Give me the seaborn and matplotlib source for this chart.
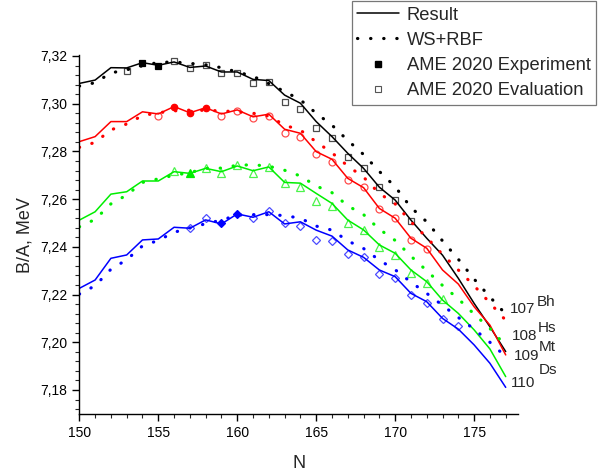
import matplotlib
matplotlib.use("Agg")
import matplotlib.pyplot as plt
from matplotlib.lines import Line2D
from matplotlib.ticker import MultipleLocator, FuncFormatter
import seaborn as sns

# neutron numbers
n_values = list(range(150, 178))

# Result (solid lines)
bh_result = [7.3085, 7.3099, 7.3151, 7.3150, 7.3172, 7.3161, 7.3175, 7.3152, 7.3158, 7.3133,
             7.3133, 7.3102, 7.3097, 7.3036, 7.3002, 7.2925, 7.2862, 7.2792, 7.2729, 7.2650,
             7.2596, 7.2512, 7.2436, 7.2365, 7.2268, 7.2163, 7.2065, 7.1961]
hs_result = [7.2841, 7.2862, 7.2925, 7.2925, 7.2966, 7.2957, 7.2988, 7.2962, 7.2983, 7.2957,
             7.2974, 7.2945, 7.2956, 7.2893, 7.2876, 7.2799, 7.2767, 7.2687, 7.2648, 7.2561,
             7.2520, 7.2436, 7.2394, 7.2303, 7.2244, 7.2149, 7.2072, 7.1947]
mt_result = [7.2512, 7.2547, 7.2621, 7.2631, 7.2676, 7.2676, 7.2715, 7.2708, 7.2729, 7.2715,
             7.2739, 7.2719, 7.2735, 7.2670, 7.2667, 7.2624, 7.2582, 7.2512, 7.2471, 7.2408,
             7.2373, 7.2303, 7.2254, 7.2177, 7.2121, 7.2052, 7.1972, 7.1856]
ds_result = [7.2226, 7.2261, 7.2352, 7.2366, 7.2429, 7.2433, 7.2482, 7.2478, 7.2513, 7.2496,
             7.2538, 7.2524, 7.2547, 7.2496, 7.2505, 7.2470, 7.2445, 7.2387, 7.2356, 7.2303,
             7.2275, 7.2205, 7.2170, 7.2100, 7.2055, 7.1989, 7.1912, 7.1811]

# WS+RBF (dotted lines)
bh_ws = [7.3074, 7.3088, 7.3129, 7.3142, 7.3159, 7.3173, 7.3175, 7.3169, 7.3163, 7.3151,
         7.3133, 7.3115, 7.3084, 7.3051, 7.3016, 7.2960, 7.2910, 7.2846, 7.2787, 7.2716,
         7.2652, 7.2565, 7.2505, 7.2425, 7.2348, 7.2265, 7.2190, 7.2118]
hs_ws = [7.2817, 7.2838, 7.2890, 7.2915, 7.2950, 7.2962, 7.2970, 7.2973, 7.2972, 7.2970,
         7.2966, 7.2960, 7.2948, 7.2910, 7.2889, 7.2840, 7.2794, 7.2739, 7.2692, 7.2624,
         7.2580, 7.2505, 7.2439, 7.2368, 7.2303, 7.2237, 7.2165, 7.2092]
mt_ws = [7.2484, 7.2515, 7.2580, 7.2617, 7.2670, 7.2685, 7.2700, 7.2711, 7.2729, 7.2730,
         7.2742, 7.2744, 7.2738, 7.2721, 7.2697, 7.2655, 7.2627, 7.2572, 7.2535, 7.2474,
         7.2427, 7.2361, 7.2300, 7.2238, 7.2182, 7.2118, 7.2058, 7.1985]
ds_ws = [7.2202, 7.2237, 7.2306, 7.2346, 7.2404, 7.2427, 7.2461, 7.2479, 7.2497, 7.2512,
         7.2533, 7.2535, 7.2535, 7.2531, 7.2520, 7.2487, 7.2470, 7.2425, 7.2393, 7.2344,
         7.2304, 7.2252, 7.2205, 7.2155, 7.2104, 7.2055, 7.2000, 7.1940]

# AME 2020 experiment (filled markers)
bh_exp_n = [154, 155]
bh_exp = [7.3172, 7.3158]
hs_exp_n = [156, 157, 158]
hs_exp = [7.2985, 7.2962, 7.2982]
mt_exp_n = [157]
mt_exp = [7.2708]
ds_exp_n = [159, 160]
ds_exp = [7.2498, 7.2538]

# AME 2020 evaluation (open markers)
bh_eval_n = [153, 156, 157, 158, 159, 160, 161, 162, 163, 164, 165, 166, 167, 168, 169, 170, 171]
bh_eval = [7.3137, 7.3180, 7.3151, 7.3161, 7.3130, 7.3130, 7.3088, 7.3089, 7.3008, 7.2978,
           7.2899, 7.2857, 7.2778, 7.2729, 7.2652, 7.2596, 7.2510]
hs_eval_n = [155, 159, 160, 161, 162, 163, 164, 165, 166, 167, 168, 169, 170, 171, 172]
hs_eval = [7.2948, 7.2948, 7.2969, 7.2941, 7.2950, 7.2878, 7.2859, 7.2789, 7.2757, 7.2680,
           7.2652, 7.2557, 7.2519, 7.2429, 7.2390]
mt_eval_n = [156, 158, 159, 160, 161, 162, 163, 164, 165, 166, 167, 168, 169, 170, 171, 172, 173]
mt_eval = [7.2719, 7.2729, 7.2711, 7.2743, 7.2711, 7.2733, 7.2669, 7.2652, 7.2593, 7.2571,
           7.2501, 7.2471, 7.2401, 7.2366, 7.2289, 7.2250, 7.2182]
ds_eval_n = [157, 158, 161, 162, 163, 164, 165, 166, 167, 168, 169, 170, 171, 172, 173, 174]
ds_eval = [7.2478, 7.2520, 7.2520, 7.2549, 7.2498, 7.2487, 7.2429, 7.2426, 7.2370, 7.2356,
           7.2286, 7.2268, 7.2198, 7.2166, 7.2098, 7.2068]

sns.set_style("ticks")
plt.rcParams["font.family"] = ["Liberation Sans", "DejaVu Sans"]

fig = plt.figure(figsize=(6.0, 4.74), dpi=100)
ax = fig.add_axes([0.1322, 0.1259, 0.7317, 0.758])

dotted = (0, (0.1, 4.0))

series = [
    ("black", "s", bh_result, bh_ws, bh_exp_n, bh_exp, bh_eval_n, bh_eval),
    ("#ff0000", "o", hs_result, hs_ws, hs_exp_n, hs_exp, hs_eval_n, hs_eval),
    ("#00ee00", "^", mt_result, mt_ws, mt_exp_n, mt_exp, mt_eval_n, mt_eval),
    ("#0000ff", "D", ds_result, ds_ws, ds_exp_n, ds_exp, ds_eval_n, ds_eval),
]

for color, mk, res, ws, en, ev, vn, vv in series:
    sns.lineplot(x=n_values, y=res, color=color, lw=1.1, ax=ax)
    sns.lineplot(x=n_values, y=ws, color=color, lw=2.3, linestyle=dotted,
                 dash_capstyle="round", ax=ax)
    ms = 5.0 if mk != "^" else 5.8
    if mk == "D":
        ms = 4.5
    ax.plot(vn, vv, linestyle="none", marker=mk, ms=ms, mfc="none",
            mec=color, mew=0.9, alpha=0.7)
    ax.plot(en, ev, linestyle="none", marker=mk, ms=ms - 0.4, mfc=color,
            mec=color, mew=0.9)

ax.set_xlim(150, 177.8)
ax.set_ylim(7.1698, 7.3204)
ax.xaxis.set_major_locator(MultipleLocator(5))
ax.xaxis.set_minor_locator(MultipleLocator(1))
ax.yaxis.set_major_locator(MultipleLocator(0.02))
ax.yaxis.set_minor_locator(MultipleLocator(0.004))
ax.yaxis.set_major_formatter(FuncFormatter(lambda v, p: f"{v:.2f}".replace(".", ",")))
ax.tick_params(which="major", direction="out", length=5, width=1, labelsize=10, colors="black")
ax.tick_params(which="minor", direction="out", length=3, width=0.8)
for side in ["top", "right"]:
    ax.spines[side].set_visible(False)
for side in ["left", "bottom"]:
    ax.spines[side].set_linewidth(1)
    ax.spines[side].set_color("black")

ax.set_xlabel("N", fontsize=13, labelpad=11)
ax.set_ylabel("B/A, MeV", fontsize=13, labelpad=5)

# element labels at the right end
labels = [("107", 177.28, 7.2139), ("Bh", 178.99, 7.2169),
          ("108", 177.40, 7.2026), ("Hs", 179.05, 7.2060),
          ("109", 177.53, 7.1942), ("Mt", 179.10, 7.1980),
          ("110", 177.34, 7.1829), ("Ds", 179.10, 7.1884)]
for txt, xx, yy in labels:
    ax.text(xx, yy, txt, fontsize=11, ha="left", va="center", clip_on=False)

handles = [
    Line2D([], [], color="black", lw=1.1),
    Line2D([], [], color="black", lw=2.3, linestyle=dotted, dash_capstyle="round"),
    Line2D([], [], color="black", linestyle="none", marker="s", ms=4.5),
    Line2D([], [], color="#555555", linestyle="none", marker="s", ms=4, mfc="none", mew=0.8),
]
names = ["Result", "WS+RBF", "AME 2020 Experiment", "AME 2020 Evaluation"]
leg = fig.legend(handles, names, loc="upper right", bbox_to_anchor=(596 / 600, 1 - 1 / 474),
                 frameon=True, fancybox=False, fontsize=13.2, handlelength=2.3,
                 borderpad=0.3, labelspacing=0.45, handletextpad=0.4, borderaxespad=0)
leg.get_frame().set_edgecolor("#555555")
leg.get_frame().set_linewidth(0.9)

fig.savefig("out.png", dpi=100)
